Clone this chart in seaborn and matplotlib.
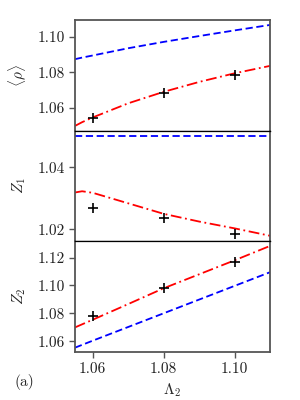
import numpy as np
import pandas as pd
import matplotlib
matplotlib.use("Agg")
import matplotlib.pyplot as plt
import seaborn as sns

sns.set_style("ticks")
plt.rcParams['font.family'] = ['cmr10', 'DejaVu Serif']
plt.rcParams['mathtext.fontset'] = 'cm'
plt.rcParams['axes.formatter.use_mathtext'] = True
plt.rcParams['axes.unicode_minus'] = False

# x values of the theory curves and of the simulation points
lam_curve = [1.055, 1.057, 1.06, 1.07, 1.08, 1.09, 1.10, 1.11]
lam_pts = [1.06, 1.08, 1.10]

# <rho>
rho_blue = [1.0875, 1.0884, 1.0896, 1.0937, 1.0973, 1.1006, 1.1038, 1.1069]
rho_red = [1.0497, 1.0518, 1.0545, 1.0625, 1.0690, 1.0746, 1.0795, 1.0837]
rho_pts = [1.0539, 1.0684, 1.0783]

# Z_1
z1_blue = [1.0501, 1.0501, 1.0501, 1.0501, 1.0501, 1.0501, 1.0501, 1.0501]
z1_red = [1.0319, 1.0323, 1.0318, 1.0284, 1.0250, 1.0225, 1.0203, 1.0179]
z1_pts = [1.0269, 1.0236, 1.0186]

# Z_2
z2_blue = [1.0555, 1.0575, 1.0605, 1.0703, 1.0801, 1.0899, 1.0997, 1.1095]
z2_red = [1.0700, 1.0722, 1.0755, 1.0867, 1.0980, 1.1080, 1.1180, 1.1283]
z2_pts = [1.0779, 1.0984, 1.1171]

panels = [
    (rho_blue, rho_red, rho_pts, r'$\langle\rho\rangle$', (1.047, 1.1097), [1.06, 1.08, 1.10]),
    (z1_blue, z1_red, z1_pts, r'$Z_1$', (1.0161, 1.0519), [1.02, 1.04]),
    (z2_blue, z2_red, z2_pts, r'$Z_2$', (1.0524, 1.1316), [1.06, 1.08, 1.10, 1.12]),
]

fig = plt.figure(figsize=(3, 4), dpi=100)
gs = fig.add_gridspec(3, 1, left=0.25, right=0.9, top=0.95, bottom=0.12, hspace=0)
axes = [fig.add_subplot(gs[i]) for i in range(3)]

frame = '#555555'
for i, (ax, (blue, red, pts, lab, ylim, yt)) in enumerate(zip(axes, panels)):
    sns.lineplot(x=lam_curve, y=blue, ax=ax, color='blue', lw=1.3,
                 linestyle=(0, (4, 2)), estimator=None, sort=False)
    sns.lineplot(x=lam_curve, y=red, ax=ax, color='red', lw=1.3,
                 linestyle=(0, (6, 2, 1, 2)), estimator=None, sort=False)
    ax.plot(lam_pts, pts, ls='none', marker='+', color='black', ms=7, mew=1.2)
    ax.set_xlim(1.055, 1.11)
    ax.set_ylim(*ylim)
    ax.set_yticks(yt)
    ax.set_yticklabels(['%.2f' % v for v in yt])
    ax.set_ylabel(lab, fontsize=11)
    ax.yaxis.set_label_coords(-0.24, 0.5)
    ax.tick_params(direction='out', length=4, width=1, color=frame, labelsize=11,
                   labelcolor='#222222', top=False, right=False)
    for s in ax.spines.values():
        s.set_color(frame)
        s.set_linewidth(1.3)
        s.set_visible(True)
    if i > 0:
        ax.spines['top'].set_color('black')
        ax.spines['top'].set_linewidth(0.9)
    if i < 2:
        ax.spines['bottom'].set_color('black')
        ax.spines['bottom'].set_linewidth(0.9)
        ax.tick_params(axis='x', bottom=False, labelbottom=False)

axes[2].set_xticks([1.06, 1.08, 1.10])
axes[2].set_xticklabels(['1.06', '1.08', '1.10'])
axes[2].set_xlabel(r'$\Lambda_2$', fontsize=11)
fig.text(0.05, 0.035, '(a)', fontsize=11)

fig.savefig('out.png', dpi=100)
